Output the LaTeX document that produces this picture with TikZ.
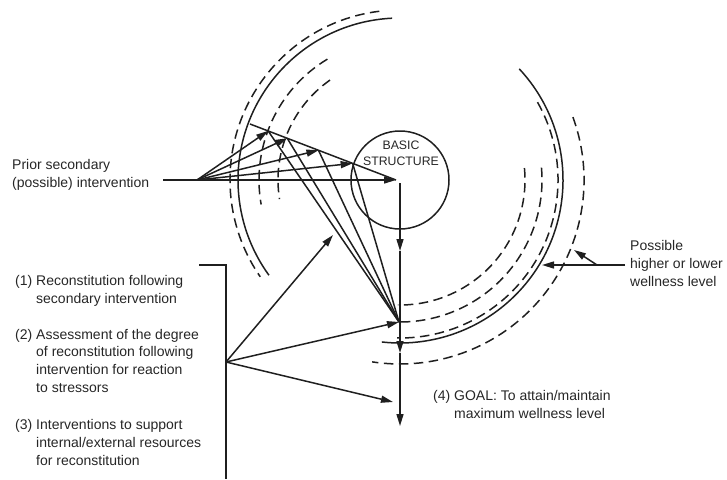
\documentclass[tikz,border=0pt]{standalone}
\usepackage{fontspec}
\setmainfont{Liberation Sans}
\usetikzlibrary{arrows.meta,calc}
\begin{document}
\begin{tikzpicture}[x=1pt,y=-1pt,
  ln/.style={line width=1.5pt, draw=black!88},
  dsh/.style={ln, dash pattern=on 9.5pt off 5.5pt},
  arr/.style={ln, -{Triangle[length=12pt,width=7pt]}},
  lbl/.style={font=\fontsize{14}{17.6}\selectfont, text=black!85, inner sep=0pt, anchor=base west, align=left},
  small/.style={font=\fontsize{12.3}{16}\selectfont, text=black!85, inner sep=0pt, align=center},
]
\useasboundingbox (0,0) rectangle (727,479);

% centre of the concentric lines
\coordinate (C) at (400,180);

% basic structure
\node[circle, ln, draw, minimum size=98pt, inner sep=0pt] (bs) at (C) {};
\node[small, anchor=base] (bstxt) at (401,165) {BASIC\\STRUCTURE};

% right-hand lines (reconstitution levels)
\draw[dsh] (C) ++(-5.5:125) arc[start angle=-5.5, end angle=91, radius=125];
\draw[dsh] (C) ++(-5:142) arc[start angle=-5, end angle=91, radius=142];
\draw[dsh] (C) ++(-29.5:158) arc[start angle=-29.5, end angle=91, radius=158];
\draw[ln]  (C) ++(-43:163) arc[start angle=-43, end angle=96.4, radius=163];
\draw[dsh] (C) ++(-20:184) arc[start angle=-20, end angle=98.7, radius=184];

% left-hand lines
\draw[dsh] (C) ++(-97:170) arc[start angle=-97, end angle=-214.7, radius=170];
\draw[ln]  (C) ++(-92.8:162) arc[start angle=-92.8, end angle=-216, radius=162];
\draw[dsh] (C) ++(-121:141) arc[start angle=-121, end angle=-190, radius=141];
\draw[dsh] (C) ++(-125:122) arc[start angle=-125, end angle=-189, radius=122];

% prior secondary intervention
\coordinate (L) at (163,180);
\coordinate (O) at (197,180);
\coordinate (T5) at (396,180);
\coordinate (P0) at (250,124);
\coordinate (T1) at ($(P0)!0.124!(T5)$);
\coordinate (T2) at ($(P0)!0.255!(T5)$);
\coordinate (T3) at ($(P0)!0.469!(T5)$);
\coordinate (T4) at ($(P0)!0.703!(T5)$);
\coordinate (Q) at (399,322);

\draw[arr] (L) -- (T5);
\draw[ln] (P0) -- (T5);
\foreach \t in {T1,T2,T3,T4}{
  \draw[arr] (O) -- (\t);
  \draw[ln] (\t) -- (Q);
}

% main vertical path
\coordinate (V0) at (400,183);
\coordinate (V1) at (400,251);
\coordinate (V2) at (400,353);
\coordinate (V3) at (400,426);
\draw[arr] (V0) -- (V1);
\draw[arr] (V1) -- (V2);
\draw[arr] (V2) -- (V3);

% bracket and its arrows
\coordinate (Bt) at (199,265);
\coordinate (Bc) at (226,265);
\coordinate (Bb) at (226,479);
\coordinate (B) at (226,362);
\coordinate (A1) at (333,235);
\coordinate (A3) at (393,402);
\draw[ln] (Bt) -- (Bc) -- (Bb);
\draw[arr] (B) -- (A1);
\draw[arr] (B) -- (Q);
\draw[arr] (B) -- (A3);

% wellness level pointers
\coordinate (R0) at (625,265);
\coordinate (R1) at (542,265);
\coordinate (R2) at (597,265);
\coordinate (R3) at (574,250);
\draw[arr] (R0) -- (R1);
\draw[arr] (R2) -- (R3);

% labels (anchored on the baseline of their last line)
\node[lbl] (prior) at (12,187) {Prior secondary\\(possible) intervention};
\node[lbl] (one) at (15,303) {(1) Reconstitution following\\\hphantom{(1)~}secondary intervention};
\node[lbl] (two) at (15,392) {(2) Assessment of the degree\\\hphantom{(2)~}of reconstitution following\\\hphantom{(2)~}intervention for reaction\\\hphantom{(2)~}to stressors};
\node[lbl] (three) at (15,465) {(3) Interventions to support\\\hphantom{(3)~}internal/external resources\\\hphantom{(3)~}for reconstitution};
\node[lbl] (poss) at (630,286) {Possible\\higher or lower\\wellness level};
\node[lbl] (goal) at (433,418) {(4) GOAL: To attain/maintain\\\hphantom{(4)~}maximum wellness level};
\end{tikzpicture}
\end{document}
